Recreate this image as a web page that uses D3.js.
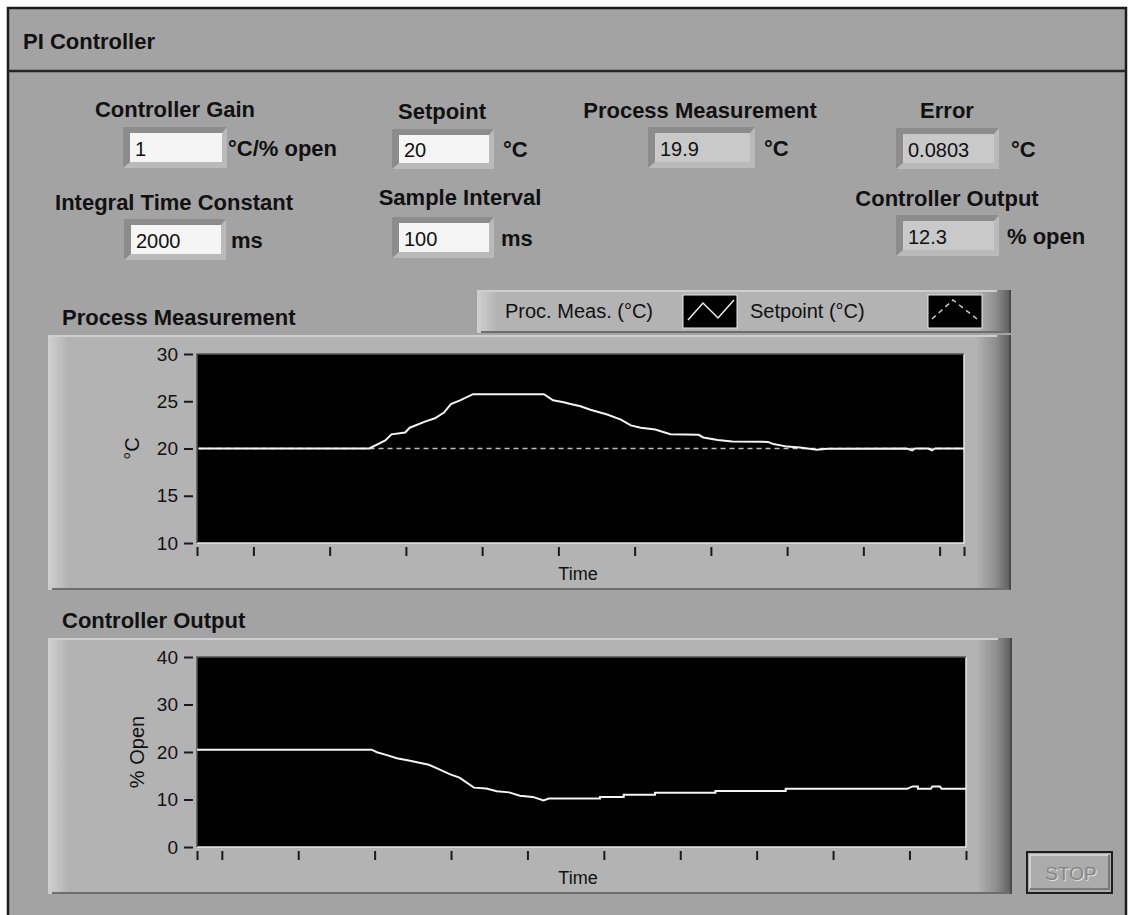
<!DOCTYPE html>
<html>
<head>
<meta charset="utf-8">
<script src="https://cdn.jsdelivr.net/npm/d3@7"></script>
<style>
  body { margin: 0; background: #fff; }
  text { font-family: "Liberation Sans", Arial, sans-serif; fill: #111; }
  .bold { font-weight: bold; font-size: 22px; }
  .reg { font-size: 20px; }
  .tick text { font-size: 19px; font-family: "Liberation Sans", Arial, sans-serif; fill: #111; }
</style>
</head>
<body>
<div id="viz"></div>
<script>
// ---- front panel values ----
var controlLabels = ["Controller Gain", "Setpoint", "Process Measurement", "Error",
                     "Integral Time Constant", "Sample Interval", "Controller Output"];
var controlValues = ["1", "20", "19.9", "0.0803", "2000", "100", "12.3"];
var controlUnits  = ["°C/% open", "°C", "°C", "°C", "ms", "ms", "% open"];
var controlIsIndicator = [false, false, true, true, false, false, true];

// process measurement chart (time in samples/10, value in °C)
var pvTime  = [2.8, 25.2, 27.3, 28.1, 29.9, 30.5, 32.5, 33.8, 35.0, 35.9, 37.1, 38.8, 48.1, 49.3,
               50.7, 51.6, 52.9, 54.2, 56.4, 58.2, 59.5, 60.8, 62.7, 64.7, 68.4, 69.0, 70.9, 72.8,
               77.5, 78.2, 80.0, 81.7, 83.9, 85.3, 95.7, 96.4, 96.8, 98.5, 99.0, 99.4, 103.2];
var pvValue = [20, 20, 20.85, 21.5, 21.7, 22.2, 22.85, 23.2, 23.8, 24.7, 25.1, 25.75, 25.75, 25.1,
               24.9, 24.7, 24.47, 24.1, 23.6, 23.05, 22.45, 22.2, 22.0, 21.5, 21.45, 21.17, 20.9, 20.75,
               20.7, 20.47, 20.2, 20.1, 19.86, 19.97, 20.0, 19.8, 20.0, 20.0, 19.8, 20.0, 20.0];
var spTime  = [2.8, 103.2];
var spValue = [20, 20];

// controller output chart (% open)
var coTime  = [6.75, 29.6, 30.3, 31.5, 32.9, 34.8, 35.7, 37.1, 38.1, 39.9, 41.1, 43.0, 44.6, 46.0,
               47.6, 49.0, 50.7, 52.1, 52.8, 59.5, 59.5, 62.6, 62.6, 66.7, 66.7, 74.6, 74.6, 83.8,
               83.8, 99.7, 100.4, 101.1, 101.1, 102.8, 103.0, 104.0, 104.2, 107.4];
var coValue = [20.5, 20.5, 19.96, 19.4, 18.7, 18.1, 17.8, 17.3, 16.6, 15.3, 14.6, 12.5, 12.3, 11.75,
               11.5, 10.8, 10.55, 9.8, 10.2, 10.2, 10.55, 10.55, 11.0, 11.0, 11.4, 11.4, 11.8, 11.8,
               12.25, 12.25, 12.75, 12.75, 12.25, 12.25, 12.75, 12.75, 12.25, 12.25];

var pvYTicks = [10, 15, 20, 25, 30];
var coYTicks = [0, 10, 20, 30, 40];
var timeTicks = [10, 20, 30, 40, 50, 60, 70, 80, 90, 100];
var legendNames = ["Proc. Meas. (°C)", "Setpoint (°C)"];

// ---- layout ----
var W = 1130, H = 915;
var svg = d3.select("#viz").append("svg").attr("width", W).attr("height", H);
var defs = svg.append("defs");

var g1 = defs.append("linearGradient").attr("id", "rightEdge");
g1.append("stop").attr("offset", "0%").attr("stop-color", "#b2b2b2");
g1.append("stop").attr("offset", "55%").attr("stop-color", "#8e8e8e");
g1.append("stop").attr("offset", "100%").attr("stop-color", "#5a5a5a");
var g2 = defs.append("linearGradient").attr("id", "leftEdge");
g2.append("stop").attr("offset", "0%").attr("stop-color", "#d0d0d0");
g2.append("stop").attr("offset", "100%").attr("stop-color", "#b4b4b4");

// window frame
svg.append("rect").attr("x", 8).attr("y", 8).attr("width", 1118).attr("height", 920)
  .attr("fill", "#a3a3a3").attr("stroke", "#1c1c1c").attr("stroke-width", 2.5);
svg.append("line").attr("x1", 8).attr("x2", 1126).attr("y1", 71).attr("y2", 71)
  .attr("stroke", "#262626").attr("stroke-width", 2.5);
svg.append("text").attr("class", "bold").attr("x", 23).attr("y", 49).text("PI Controller");

// numeric controls / indicators
var ctlPos = [
  {lx: 175, ly: 117, bx: 130, by: 133, bw: 92, bh: 29, ux: 228},
  {lx: 442, ly: 119, bx: 399, by: 135, bw: 90, bh: 28, ux: 503},
  {lx: 700, ly: 118, bx: 655, by: 133, bw: 95, bh: 29, ux: 764},
  {lx: 947, ly: 118, bx: 903, by: 134, bw: 91, bh: 29, ux: 1011},
  {lx: 174, ly: 210, bx: 131, by: 225, bw: 90, bh: 29, ux: 231},
  {lx: 460, ly: 205, bx: 399, by: 223, bw: 90, bh: 29, ux: 501},
  {lx: 947, ly: 206, bx: 903, by: 221, bw: 91, bh: 29, ux: 1007}
];

ctlPos.forEach(function(p, i) {
  var x = p.bx, y = p.by, w = p.bw, h = p.bh;
  svg.append("text").attr("class", "bold").attr("x", p.lx).attr("y", p.ly)
    .attr("text-anchor", "middle").text(controlLabels[i]);
  svg.append("rect").attr("x", x - 7).attr("y", y - 6).attr("width", w + 12).attr("height", h + 12)
    .attr("fill", "#bababa");
  svg.append("path")
    .attr("d", "M" + (x - 7) + "," + (y - 6) + "L" + (x + w + 5) + "," + (y - 6) + "L" + (x + w) + "," + y +
               "L" + x + "," + y + "L" + x + "," + (y + h) + "L" + (x - 7) + "," + (y + h + 6) + "Z")
    .attr("fill", "#8c8c8c");
  svg.append("rect").attr("x", x).attr("y", y).attr("width", w).attr("height", h)
    .attr("fill", controlIsIndicator[i] ? "#c9c9c9" : "#f5f5f5");
  svg.append("text").attr("class", "reg").attr("x", x + 5).attr("y", y + h / 2 + 8)
    .text(controlValues[i]);
  svg.append("text").attr("class", "bold").attr("x", p.ux).attr("y", y + h / 2 + 8)
    .text(controlUnits[i]);
});

// raised LabVIEW style panel
function panel(x, y, w, h) {
  svg.append("rect").attr("x", x).attr("y", y).attr("width", w).attr("height", h).attr("fill", "#b3b3b3");
  svg.append("rect").attr("x", x).attr("y", y).attr("width", 20).attr("height", h).attr("fill", "url(#leftEdge)");
  svg.append("rect").attr("x", x + w - 34).attr("y", y).attr("width", 34).attr("height", h).attr("fill", "url(#rightEdge)");
  svg.append("line").attr("x1", x).attr("x2", x + w - 14).attr("y1", y + 1).attr("y2", y + 1)
    .attr("stroke", "#cfcfcf").attr("stroke-width", 2);
  svg.append("line").attr("x1", x + 4).attr("x2", x + w).attr("y1", y + h - 1).attr("y2", y + h - 1)
    .attr("stroke", "#6e6e6e").attr("stroke-width", 2);
  svg.append("line").attr("x1", x + w - 1).attr("x2", x + w - 1).attr("y1", y).attr("y2", y + h)
    .attr("stroke", "#4a4a4a").attr("stroke-width", 2);
}

function chart(cfg) {
  svg.append("text").attr("class", "bold").attr("x", 62).attr("y", cfg.titleY).text(cfg.title);
  panel(48, cfg.panelY, cfg.panelW, cfg.panelH);

  var x = d3.scaleLinear().domain(cfg.xDomain).range([197, cfg.plotRight]);
  var y = d3.scaleLinear().domain(cfg.yDomain).range([cfg.plotBottom, cfg.plotTop]);

  svg.append("rect").attr("x", 197).attr("y", cfg.plotTop)
    .attr("width", cfg.plotRight - 197).attr("height", cfg.plotBottom - cfg.plotTop).attr("fill", "#000");
  svg.append("path").attr("fill", "none").attr("stroke", "#e6e6e6").attr("stroke-width", 1.5)
    .attr("d", "M197," + cfg.plotBottom + "H" + cfg.plotRight + "V" + cfg.plotTop);
  svg.append("path").attr("fill", "none").attr("stroke", "#555").attr("stroke-width", 1.5)
    .attr("d", "M197," + cfg.plotBottom + "V" + cfg.plotTop + "H" + cfg.plotRight);

  var yAxis = svg.append("g").attr("transform", "translate(193,0)")
    .call(d3.axisLeft(y).tickValues(cfg.yTicks).tickSizeInner(9).tickSizeOuter(0).tickPadding(6));
  var xAxis = svg.append("g").attr("transform", "translate(0," + (cfg.plotBottom + 4) + ")")
    .call(d3.axisBottom(x).tickValues([cfg.xDomain[0]].concat(timeTicks, [cfg.xDomain[1]]))
      .tickSizeInner(9).tickSizeOuter(0).tickFormat(""));
  [xAxis, yAxis].forEach(function(a) {
    a.select(".domain").remove();
    a.selectAll(".tick line").attr("stroke", "#1a1a1a").attr("stroke-width", 2);
  });

  svg.append("text").attr("class", "reg").style("font-size", "18px")
    .attr("x", 578).attr("y", cfg.plotBottom + 37).attr("text-anchor", "middle").text("Time");
  svg.append("text").attr("class", "reg")
    .attr("transform", "translate(" + cfg.yLabelX + "," + ((cfg.plotTop + cfg.plotBottom) / 2) + ") rotate(-90)")
    .attr("text-anchor", "middle").text(cfg.yLabel);

  var line = d3.line().x(function(d) { return x(d[0]); }).y(function(d) { return y(d[1]); });
  cfg.series.forEach(function(s) {
    var pts = s.t.map(function(t, i) { return [t, s.v[i]]; });
    svg.append("path").datum(pts).attr("fill", "none").attr("stroke", s.color)
      .attr("stroke-width", s.width).attr("stroke-dasharray", s.dash || null).attr("d", line);
  });
}

// legend of the first chart
panel(477, 290, 534, 43);
legendNames.forEach(function(name, i) {
  var tx = [505, 750][i], sx = [683, 928][i];
  svg.append("text").attr("class", "reg").attr("x", tx).attr("y", 318).text(name);
  svg.append("rect").attr("x", sx).attr("y", 295).attr("width", 54).attr("height", 33)
    .attr("fill", "#000").attr("stroke", "#e8e8e8").attr("stroke-width", 1);
});
svg.append("path").attr("fill", "none").attr("stroke", "#f0f0f0").attr("stroke-width", 1.5)
  .attr("d", "M688,320L703,303L718,318L734,300");
svg.append("path").attr("fill", "none").attr("stroke", "#c8c8c8").attr("stroke-width", 1.5)
  .attr("stroke-dasharray", "5,4").attr("d", "M932,319L953,300L977,319");

chart({
  title: "Process Measurement", titleY: 325, panelY: 335, panelW: 963, panelH: 255,
  plotTop: 354, plotBottom: 543, plotRight: 964,
  xDomain: [2.6, 103.2], yDomain: [10, 30], yTicks: pvYTicks,
  yLabel: "°C", yLabelX: 139,
  series: [
    {t: spTime, v: spValue, color: "#bdbdbd", width: 1.5, dash: "5,4"},
    {t: pvTime, v: pvValue, color: "#f4f4f4", width: 2}
  ]
});

chart({
  title: "Controller Output", titleY: 628, panelY: 638, panelW: 964, panelH: 256,
  plotTop: 657, plotBottom: 847, plotRight: 966,
  xDomain: [6.75, 107.4], yDomain: [0, 40], yTicks: coYTicks,
  yLabel: "% Open", yLabelX: 144,
  series: [
    {t: coTime, v: coValue, color: "#f4f4f4", width: 2}
  ]
});

// stop button (disabled look)
svg.append("rect").attr("x", 1027).attr("y", 852).attr("width", 85).attr("height", 41)
  .attr("fill", "#ababab").attr("stroke", "#1e1e1e").attr("stroke-width", 2);
svg.append("path").attr("fill", "none").attr("stroke", "#cfcfcf").attr("stroke-width", 2)
  .attr("d", "M1030,889V855H1109");
svg.append("path").attr("fill", "none").attr("stroke", "#7a7a7a").attr("stroke-width", 2)
  .attr("d", "M1030,889H1109V855");
svg.append("text").attr("x", 1071).attr("y", 880).attr("text-anchor", "middle")
  .style("font-size", "19px").style("fill", "#e0e0e0").attr("dx", 1).attr("dy", 1).text("STOP");
svg.append("text").attr("x", 1071).attr("y", 880).attr("text-anchor", "middle")
  .style("font-size", "19px").style("fill", "#858585").text("STOP");
</script>
</body>
</html>
